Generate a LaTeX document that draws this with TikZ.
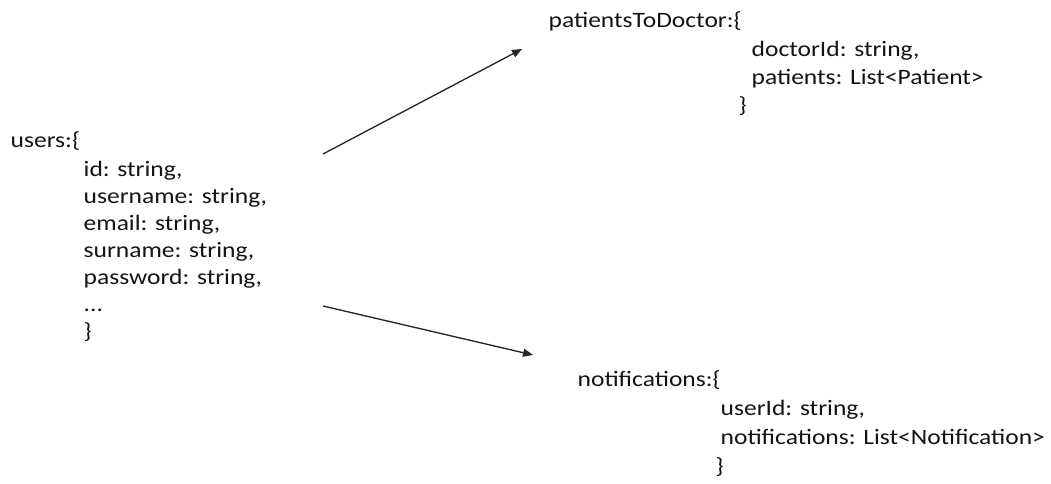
\documentclass[tikz,border=0pt]{standalone}
\usepackage{fontspec}
\setmainfont[FakeStretch=1.16]{Carlito}
\usetikzlibrary{positioning, arrows.meta}
\tikzset{every picture/.style={line width=1pt}}
\definecolor{doc-text}{RGB}{20,20,20}

\begin{document}
\begin{tikzpicture}
    [x=0.75pt, y=-0.75pt,
    field/.style = {anchor=base west, inner sep=0pt,
            font=\fontsize{16.5}{19.9}\selectfont, text=doc-text},
    link/.style = {-{Triangle[length=7.5pt, width=6pt]}, draw=black!85},
    ]

\useasboundingbox (0,0) rectangle (1051,484);

% users collection
\node[field] (users) at (10, 148) {users:\{};
\foreach \txt [count=\i from 0] in {{id: string,}, {username: string,},
        {email: string,}, {surname: string,}, {password: string,}, {.{}.{}.}, {\}}}
    \node[field] (users-\i) at (83, 177+26.9*\i) {\txt};

% patientsToDoctor collection
\node[field] (ptd) at (548, 28) {patientsToDoctor:\{};
\node[field] (ptd-0) at (751, 57) {doctorId: string,};
\node[field] (ptd-1) at (751, 85) {patients: List<Patient>};
\node[field] (ptd-2) at (738, 113) {\}};

% notifications collection
\node[field] (notif) at (577, 387) {notifications:\{};
\node[field] (notif-0) at (720, 416) {userId: string,};
\node[field] (notif-1) at (720, 445) {notifications: List<Notification>};
\node[field] (notif-2) at (715, 474) {\}};

\coordinate (usersTop) at (323, 154);
\coordinate (usersBot) at (323, 306);
\coordinate (ptdIn) at (522, 49);
\coordinate (notifIn) at (533, 355);

\draw[link] (usersTop) -- (ptdIn);
\draw[link] (usersBot) -- (notifIn);

\end{tikzpicture}
\end{document}
